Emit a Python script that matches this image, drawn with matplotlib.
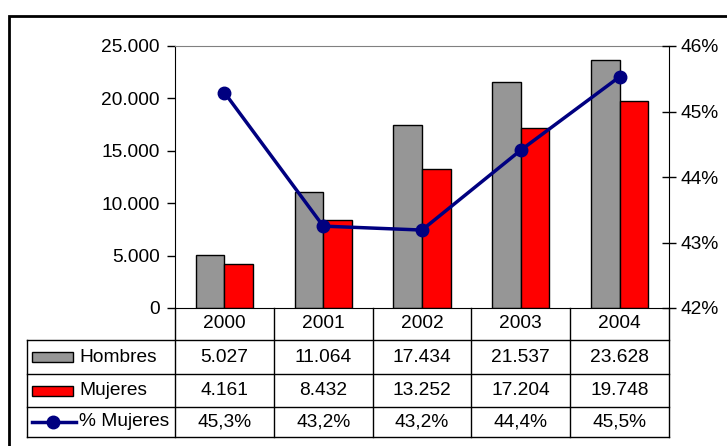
import matplotlib
matplotlib.use("Agg")
import matplotlib.pyplot as plt
from matplotlib.patches import Rectangle
from matplotlib.lines import Line2D
from matplotlib.ticker import FuncFormatter

plt.rcParams['font.family'] = ['Liberation Sans', 'DejaVu Sans']
plt.rcParams['font.size'] = 13.8

# ====== datos ======
years = ["2000", "2001", "2002", "2003", "2004"]
hombres = [5027, 11064, 17434, 21537, 23628]
mujeres = [4161, 8432, 13252, 17204, 19748]
pct_mujeres = [45.29, 43.25, 43.19, 44.41, 45.53]
pct_labels = ["45,3%", "43,2%", "43,2%", "44,4%", "45,5%"]

GRAY = "#969696"
RED = "#FF0000"
NAVY = "#000080"

W, H = 727, 446
fig = plt.figure(figsize=(W / 100, H / 100), dpi=100)

# borde exterior (se sale de la imagen por derecha y abajo)
fig.add_artist(Rectangle((9 / W, -0.1), 1.2, 1 - 16 / H + 0.1, transform=fig.transFigure,
                         fill=False, edgecolor="black", linewidth=2))

x0, x1, y_top, y_bot = 175, 669, 46, 308
ax = fig.add_axes([x0 / W, 1 - y_bot / H, (x1 - x0) / W, (y_bot - y_top) / H])

x = list(range(len(years)))
bw = 0.29
ax.bar([i - bw / 2 for i in x], hombres, width=bw, color=GRAY, edgecolor="black", linewidth=1, zorder=2)
ax.bar([i + bw / 2 for i in x], mujeres, width=bw, color=RED, edgecolor="black", linewidth=1, zorder=2)

ax.set_xlim(-0.5, 4.5)
ax.set_ylim(0, 25000)
ax.set_yticks(range(0, 25001, 5000))
ax.yaxis.set_major_formatter(FuncFormatter(lambda v, p: f"{int(v):,}".replace(",", ".")))
ax.set_xticks([])
ax.tick_params(axis="y", direction="out", length=6, width=1, pad=5)
ax.spines["top"].set_color("#808080")
ax.spines["right"].set_visible(False)
for s in ("left", "bottom"):
    ax.spines[s].set_color("black")

ax2 = ax.twinx()
ax2.plot(x, pct_mujeres, color=NAVY, linewidth=2.5, marker="o", markersize=9, zorder=3)
ax2.set_ylim(42, 46)
ax2.set_yticks([42, 43, 44, 45, 46])
ax2.yaxis.set_major_formatter(FuncFormatter(lambda v, p: f"{int(v)}%"))
ax2.tick_params(axis="y", direction="inout", length=10, width=1, pad=3)
for s in ("top", "left", "bottom"):
    ax2.spines[s].set_visible(False)
ax2.spines["right"].set_color("black")

# ====== tabla de datos ======
tr = ax.get_xaxis_transform()
ph = y_bot - y_top


def fy(py):
    return (y_bot - py) / ph


rows_y = [308, 340, 374, 407, 437]
xl = -2.0


def hline(xa, xb, py):
    ax.add_line(Line2D([xa, xb], [fy(py), fy(py)], transform=tr, color="black", lw=1, clip_on=False))


def vline(xv, pa, pb):
    ax.add_line(Line2D([xv, xv], [fy(pa), fy(pb)], transform=tr, color="black", lw=1, clip_on=False))


for py in rows_y[1:]:
    hline(xl, 4.5, py)
vline(xl, rows_y[1], rows_y[-1])
for b in [i - 0.5 for i in range(len(years) + 1)]:
    vline(b, rows_y[0], rows_y[-1])

centers = [(rows_y[k] + rows_y[k + 1]) / 2 for k in range(4)]
for i, yr in enumerate(years):
    ax.text(i, fy(centers[0]), yr, transform=tr, ha="center", va="center")
    ax.text(i, fy(centers[1]), f"{hombres[i]:,}".replace(",", "."), transform=tr, ha="center", va="center")
    ax.text(i, fy(centers[2]), f"{mujeres[i]:,}".replace(",", "."), transform=tr, ha="center", va="center")
    ax.text(i, fy(centers[3]), pct_labels[i], transform=tr, ha="center", va="center")

# leyenda dentro de la tabla
pxu = (x1 - x0) / 5.0  # pixels per unit


def ux(px):
    return -0.5 + (px - x0) / pxu


for k, col in ((1, GRAY), (2, RED)):
    c = centers[k]
    ax.add_patch(Rectangle((ux(32), fy(c + 5)), ux(73) - ux(32), fy(c - 5) - fy(c + 5),
                           transform=tr, facecolor=col, edgecolor="black", lw=1, clip_on=False))
ax.add_line(Line2D([ux(32), ux(76)], [fy(centers[3])] * 2, transform=tr, color=NAVY, lw=2.5, clip_on=False))
ax.add_line(Line2D([ux(53)], [fy(centers[3])], transform=tr, color=NAVY, marker="o", markersize=9, clip_on=False))
for k, lab in ((1, "Hombres"), (2, "Mujeres"), (3, "% Mujeres")):
    ax.text(ux(79), fy(centers[k]), lab, transform=tr, ha="left", va="center")

fig.savefig("out.png", dpi=100)
